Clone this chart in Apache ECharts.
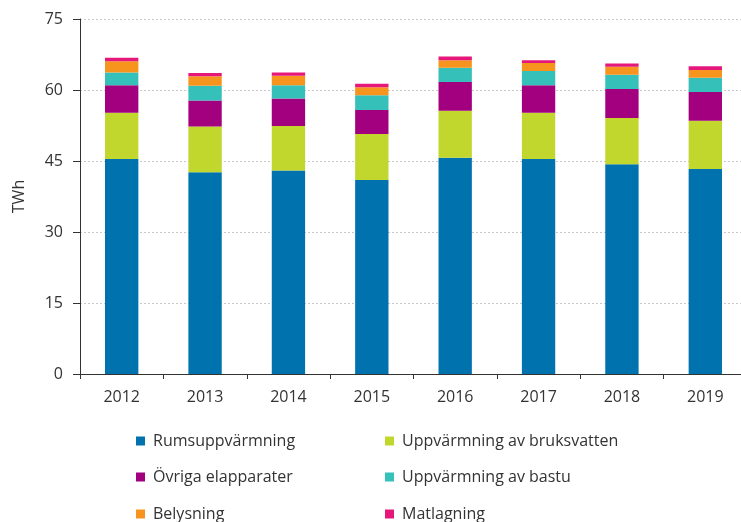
<!DOCTYPE html>
<html>
<head>
<meta charset="utf-8">
<script src="https://cdn.jsdelivr.net/npm/echarts@6/dist/echarts.min.js"></script>
<style>
  html, body { margin: 0; padding: 0; background: #fff; }
  #chart { width: 741px; height: 522px; }
</style>
</head>
<body>
<div id="chart"></div>
<script>
// years on the x axis
var years = ['2012', '2013', '2014', '2015', '2016', '2017', '2018', '2019'];

// TWh per use
var rumsuppvarmning = [45.4, 42.6, 43.0, 41.0, 45.7, 45.4, 44.3, 43.3];
var bruksvatten     = [9.8, 9.7, 9.4, 9.7, 9.9, 9.8, 9.8, 10.2];
var elapparater     = [5.8, 5.5, 5.8, 5.1, 6.1, 5.8, 6.1, 6.1];
var bastu           = [2.7, 3.1, 2.8, 3.1, 3.0, 3.0, 3.0, 3.0];
var belysning       = [2.4, 2.0, 2.0, 1.7, 1.6, 1.7, 1.7, 1.6];
var matlagning      = [0.7, 0.7, 0.7, 0.7, 0.8, 0.6, 0.7, 0.8];

var yTicks = [0, 15, 30, 45, 60, 75];

var font = '"Open Sans", "Liberation Sans", sans-serif';
var textColor = '#333';

function bar(name, data, color) {
    return {
        name: name,
        type: 'bar',
        stack: 'total',
        barWidth: '40%',
        data: data,
        itemStyle: { color: color },
        emphasis: { disabled: true }
    };
}

// one legend per item so the two columns line up like the original
function legendItem(name, left, top) {
    return {
        left: left,
        top: top,
        padding: 0,
        itemWidth: 9,
        itemHeight: 9,
        itemGap: 0,
        icon: 'rect',
        selectedMode: false,
        textStyle: { fontFamily: font, fontSize: 16, color: textColor, padding: [0, 0, 0, 3] },
        data: [name]
    };
}

var chart = echarts.init(document.getElementById('chart'));

var option = {
    animation: false,
    textStyle: { fontFamily: font },
    grid: {
        left: 80,
        top: 19,
        width: 667,
        height: 355,
        outerBoundsMode: 'none'
    },
    legend: [
        legendItem('Rumsuppvärmning', 136, 433),
        legendItem('Uppvärmning av bruksvatten', 385, 433),
        legendItem('Övriga elapparater', 136, 469),
        legendItem('Uppvärmning av bastu', 385, 469),
        legendItem('Belysning', 136, 506),
        legendItem('Matlagning', 385, 506)
    ],
    xAxis: {
        type: 'category',
        data: years,
        axisLine: { lineStyle: { color: '#333', width: 1 } },
        axisTick: { show: true, length: 5, lineStyle: { color: '#333' } },
        axisLabel: { fontSize: 16, color: textColor, margin: 15, fontFamily: font }
    },
    yAxis: {
        type: 'value',
        min: yTicks[0],
        max: yTicks[yTicks.length - 1],
        interval: 15,
        name: 'TWh',
        nameLocation: 'middle',
        nameGap: 53,
        nameRotate: 90,
        nameTextStyle: { fontSize: 16, color: textColor, fontFamily: font },
        axisLine: { show: true, lineStyle: { color: '#333', width: 1 } },
        axisTick: { show: true, length: 7, lineStyle: { color: '#333' } },
        axisLabel: { fontSize: 16, color: textColor, margin: 17, fontFamily: font },
        splitLine: { lineStyle: { color: '#c8c8c8', type: [2, 2], width: 1 } }
    },
    series: [
        bar('Rumsuppvärmning', rumsuppvarmning, '#0072ae'),
        bar('Uppvärmning av bruksvatten', bruksvatten, '#c1d72e'),
        bar('Övriga elapparater', elapparater, '#a2007e'),
        bar('Uppvärmning av bastu', bastu, '#35c1b9'),
        bar('Belysning', belysning, '#f7941e'),
        bar('Matlagning', matlagning, '#e6177a')
    ]
};

chart.setOption(option);
</script>
</body>
</html>
